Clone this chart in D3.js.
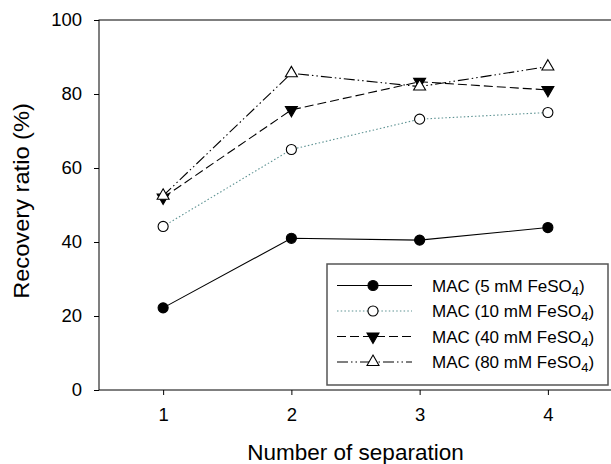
<!DOCTYPE html>
<html>
<head>
<meta charset="utf-8">
<script src="https://cdn.jsdelivr.net/npm/d3@7"></script>
<style>
  body { margin: 0; background: #fff; }
  text { font-family: "Liberation Sans", Arial, sans-serif; fill: #000; }
</style>
</head>
<body>
<script>
var separations = [1, 2, 3, 4];
var mac5 = [22.2, 41.0, 40.5, 43.9];
var mac10 = [44.2, 65.0, 73.2, 75.0];
var mac40 = [52.0, 75.7, 83.3, 81.1];
var mac80 = [52.5, 85.6, 82.0, 87.4];
var seriesNames = ["MAC (5 mM FeSO", "MAC (10 mM FeSO", "MAC (40 mM FeSO", "MAC (80 mM FeSO"];
var yTicks = [0, 20, 40, 60, 80, 100];

var svgWidth = 611;
var svgHeight = 464;
var margin = {top: 20, right: -1, bottom: 74, left: 99};
var chartWidth = svgWidth - margin.left - margin.right;
var chartHeight = svgHeight - margin.top - margin.bottom;

var svg = d3.select("body")
  .append("svg")
  .attr("width", svgWidth)
  .attr("height", svgHeight);

var chartGroup = svg.append("g")
  .attr("transform", `translate(${margin.left}, ${margin.top})`);

var xScale = d3.scaleLinear()
  .domain([0.5, 4.5])
  .range([0, chartWidth]);

var yScale = d3.scaleLinear()
  .domain([0, 100])
  .range([chartHeight, 0]);

// frame
chartGroup.append("rect")
  .attr("width", chartWidth)
  .attr("height", chartHeight)
  .attr("fill", "none")
  .attr("stroke", "#000")
  .attr("stroke-width", 1);

var leftAxis = d3.axisLeft(yScale).tickValues(yTicks).tickSize(5).tickPadding(12);
var bottomAxis = d3.axisBottom(xScale).tickValues(separations)
  .tickFormat(d3.format("d")).tickSize(5).tickPadding(13);

var yAx = chartGroup.append("g").call(leftAxis);
var xAx = chartGroup.append("g")
  .attr("transform", `translate(0, ${chartHeight})`)
  .call(bottomAxis);

[yAx, xAx].forEach(function(ax) {
  ax.select(".domain").remove();
  ax.selectAll("text")
    .style("font-size", "18.5px")
    .style("font-family", "Liberation Sans, Arial, sans-serif");
  ax.selectAll("line").attr("stroke", "#000");
});

svg.append("text")
  .attr("x", margin.left + xScale(2.5) + 0)
  .attr("y", 460)
  .style("text-anchor", "middle")
  .style("font-size", "22.5px")
  .text("Number of separation");

svg.append("text")
  .attr("transform", "translate(29, 201) rotate(-90) scale(1.1, 1)")
  .style("text-anchor", "middle")
  .style("font-size", "21.5px")
  .text("Recovery ratio (%)");

var series = [
  {name: seriesNames[0], values: mac5, stroke: "#000", dash: null, symbol: d3.symbolCircle, size: 80, fill: "#000"},
  {name: seriesNames[1], values: mac10, stroke: "#5e9393", dash: "1.5,2.2", symbol: d3.symbolCircle, size: 80, fill: "#fff"},
  {name: seriesNames[2], values: mac40, stroke: "#000", dash: "9,4", symbol: d3.symbolTriangle, size: 62, fill: "#000", rot: 180},
  {name: seriesNames[3], values: mac80, stroke: "#000", dash: "11,3,1.5,3,1.5,3", symbol: d3.symbolTriangle, size: 62, fill: "#fff", rot: 0}
];

var line = d3.line()
  .x(function(d, i) { return xScale(separations[i]); })
  .y(function(d) { return yScale(d); });

series.forEach(function(s) {
  chartGroup.append("path")
    .datum(s.values)
    .attr("d", line)
    .attr("fill", "none")
    .attr("stroke", s.stroke)
    .attr("stroke-width", 1.1)
    .attr("stroke-dasharray", s.dash);
});

series.forEach(function(s) {
  chartGroup.selectAll(null)
    .data(s.values)
    .enter()
    .append("path")
    .attr("d", d3.symbol().type(s.symbol).size(s.size))
    .attr("transform", function(d, i) {
      return `translate(${xScale(separations[i])}, ${yScale(d)}) rotate(${s.rot || 0})`;
    })
    .attr("fill", s.fill)
    .attr("stroke", "#000")
    .attr("stroke-width", 1.1);
});

// legend
var legend = svg.append("g").attr("transform", "translate(327, 264)");
legend.append("rect")
  .attr("width", 281)
  .attr("height", 121)
  .attr("fill", "#fff")
  .attr("stroke", "#555")
  .attr("stroke-width", 1.5);

series.forEach(function(s, i) {
  var row = legend.append("g").attr("transform", `translate(0, ${21.5 + i * 25.5})`);
  row.append("line")
    .attr("x1", 10).attr("x2", 85)
    .attr("stroke", s.stroke)
    .attr("stroke-width", 1.1)
    .attr("stroke-dasharray", s.dash);
  row.append("path")
    .attr("d", d3.symbol().type(s.symbol).size(s.size))
    .attr("transform", `translate(46, 0) rotate(${s.rot || 0})`)
    .attr("fill", s.fill)
    .attr("stroke", "#000")
    .attr("stroke-width", 1.1);
  var t = row.append("text")
    .attr("x", 105)
    .attr("y", 6)
    .style("font-size", "17px");
  t.append("tspan").text(s.name);
  t.append("tspan").attr("dy", 4).style("font-size", "13px").text("4");
  t.append("tspan").attr("dy", -4).text(")");
});
</script>
</body>
</html>
